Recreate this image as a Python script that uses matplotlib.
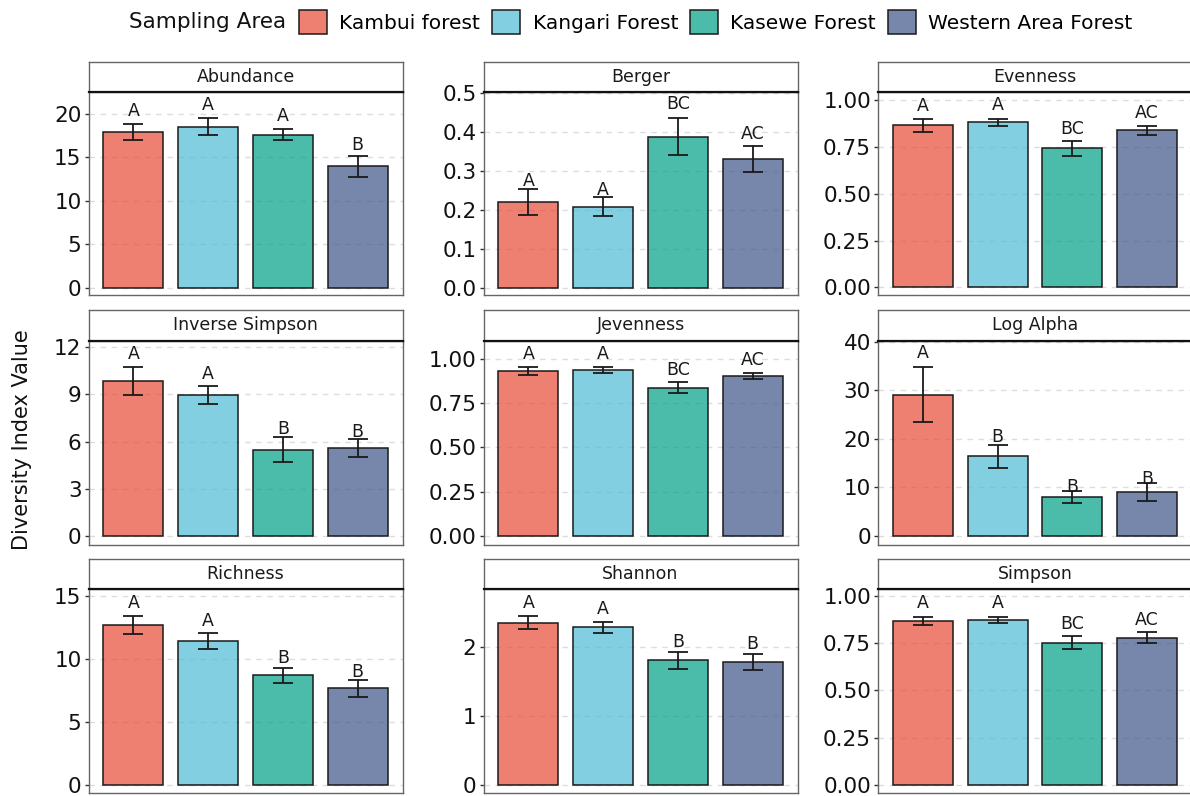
import matplotlib
matplotlib.use("Agg")
import matplotlib.pyplot as plt
from matplotlib.patches import Patch
from matplotlib.ticker import FormatStrFormatter
import numpy as np

plt.rcParams['font.family'] = ['DejaVu Sans']

areas = ["Kambui forest", "Kangari Forest", "Kasewe Forest", "Western Area Forest"]
colors = ["#E64B35", "#4DBBD5", "#00A087", "#3C5488"]

panels = ["Abundance", "Berger", "Evenness",
          "Inverse Simpson", "Jevenness", "Log Alpha",
          "Richness", "Shannon", "Simpson"]

abundance_mean = [17.9, 18.54, 17.62, 13.98]
abundance_se = [0.90, 0.94, 0.65, 1.22]
berger_mean = [0.220, 0.208, 0.388, 0.331]
berger_se = [0.034, 0.024, 0.048, 0.034]
evenness_mean = [0.865, 0.881, 0.742, 0.840]
evenness_se = [0.033, 0.020, 0.042, 0.024]
invsimpson_mean = [9.82, 8.97, 5.48, 5.57]
invsimpson_se = [0.89, 0.565, 0.785, 0.56]
jevenness_mean = [0.929, 0.936, 0.836, 0.901]
jevenness_se = [0.023, 0.0155, 0.032, 0.0165]
logalpha_mean = [29.1, 16.4, 8.1, 9.06]
logalpha_se = [5.7, 2.4, 1.25, 1.79]
richness_mean = [12.65, 11.43, 8.69, 7.66]
richness_se = [0.715, 0.62, 0.61, 0.66]
shannon_mean = [2.358, 2.29, 1.81, 1.787]
shannon_se = [0.097, 0.08, 0.119, 0.112]
simpson_mean = [0.868, 0.872, 0.752, 0.778]
simpson_se = [0.021, 0.0155, 0.0335, 0.0285]

abundance_letters = ["A", "A", "A", "B"]
berger_letters = ["A", "A", "BC", "AC"]
evenness_letters = ["A", "A", "BC", "AC"]
invsimpson_letters = ["A", "A", "B", "B"]
jevenness_letters = ["A", "A", "BC", "AC"]
logalpha_letters = ["A", "B", "B", "B"]
richness_letters = ["A", "A", "B", "B"]
shannon_letters = ["A", "A", "B", "B"]
simpson_letters = ["A", "A", "BC", "AC"]

means = [abundance_mean, berger_mean, evenness_mean, invsimpson_mean, jevenness_mean,
         logalpha_mean, richness_mean, shannon_mean, simpson_mean]
ses = [abundance_se, berger_se, evenness_se, invsimpson_se, jevenness_se,
       logalpha_se, richness_se, shannon_se, simpson_se]
letters = [abundance_letters, berger_letters, evenness_letters, invsimpson_letters,
           jevenness_letters, logalpha_letters, richness_letters, shannon_letters,
           simpson_letters]

ylims = [(-0.84, 22.53), (-0.019, 0.503), (-0.041, 1.043),
         (-0.57, 12.38), (-0.051, 1.100), (-1.85, 40.15),
         (-0.63, 15.53), (-0.116, 2.848), (-0.042, 1.035)]
yticks = [np.arange(0, 21, 5), np.arange(0, 0.51, 0.1), np.arange(0, 1.01, 0.25),
          np.arange(0, 13, 3), np.arange(0, 1.01, 0.25), np.arange(0, 41, 10),
          np.arange(0, 16, 5), np.arange(0, 3, 1), np.arange(0, 1.01, 0.25)]
yfmt = ["%d", "%.1f", "%.2f", "%d", "%.2f", "%d", "%d", "%d", "%.2f"]

W, H = 1190, 796
fig = plt.figure(figsize=(W / 100, H / 100), dpi=100)

cols = [(88.5, 402.5), (483.5, 797.5), (878, 1192)]
rows = [(62, 92, 295), (310, 341, 545), (559, 589, 793)]

x = np.arange(1, 5)
for i, name in enumerate(panels):
    r, c = divmod(i, 3)
    x0, x1 = cols[c]
    st, pt, pb = rows[r]
    ax = fig.add_axes([x0 / W, 1 - pb / H, (x1 - x0) / W, (pb - pt) / H])
    sax = fig.add_axes([x0 / W, 1 - pt / H, (x1 - x0) / W, (pt - st) / H])

    ax.bar(x, means[i], width=0.8, color=colors, alpha=0.7, edgecolor="none", zorder=2)
    ax.bar(x, means[i], width=0.8, facecolor="none", edgecolor="#1a1a1a", linewidth=1.1, zorder=3)
    ax.errorbar(x, means[i], yerr=ses[i], fmt="none", ecolor="#1a1a1a",
                elinewidth=1.3, capsize=7, capthick=1.3, zorder=4)
    tops = np.array(means[i]) + np.array(ses[i])
    for xi, t, lab in zip(x, tops, letters[i]):
        ax.text(xi, t * 1.08, lab, ha="center", va="center", fontsize=12.5, color="#1a1a1a", zorder=5)

    ax.set_xlim(0.4, 4.6)
    ax.set_ylim(*ylims[i])
    ax.set_yticks(yticks[i])
    ax.yaxis.set_major_formatter(FormatStrFormatter(yfmt[i]))
    ax.set_xticks([])
    ax.yaxis.grid(True, color="#dddddd", linestyle=(0, (4, 4)), linewidth=1)
    ax.set_axisbelow(True)
    ax.tick_params(axis="y", length=3, width=1, color="#333333", labelsize=15.5,
                   labelcolor="#111111", pad=2)
    for s in ax.spines.values():
        s.set_color("#666666")
        s.set_linewidth(1)

    sax.set_xticks([])
    sax.set_yticks([])
    sax.set_facecolor("white")
    for s in sax.spines.values():
        s.set_color("#666666")
        s.set_linewidth(1)
    sax.spines["bottom"].set_color("#111111")
    sax.spines["bottom"].set_linewidth(1.6)
    sax.text(0.5, 0.5, name, ha="center", va="center", fontsize=12.5,
             color="#1a1a1a", transform=sax.transAxes)

fig.text(22 / W, 1 - 440 / H, "Diversity Index Value", rotation=90,
         ha="center", va="center", fontsize=15, color="#111111")

fig.text(129 / W, 1 - 22 / H, "Sampling Area", ha="left", va="center",
         fontsize=15.5, color="#111111")
handles = [Patch(facecolor=matplotlib.colors.to_rgba(c, 0.7), edgecolor="#1a1a1a", linewidth=1.1)
           for c in colors]
fig.legend(handles, areas, loc="center left", bbox_to_anchor=(299 / W, 1 - 22 / H),
           ncol=4, frameon=False, fontsize=14.5, handlelength=1.4, handleheight=1.4,
           handletextpad=0.6, columnspacing=0.6, borderpad=0, borderaxespad=0)

fig.savefig("out.png", dpi=100, facecolor="white")
